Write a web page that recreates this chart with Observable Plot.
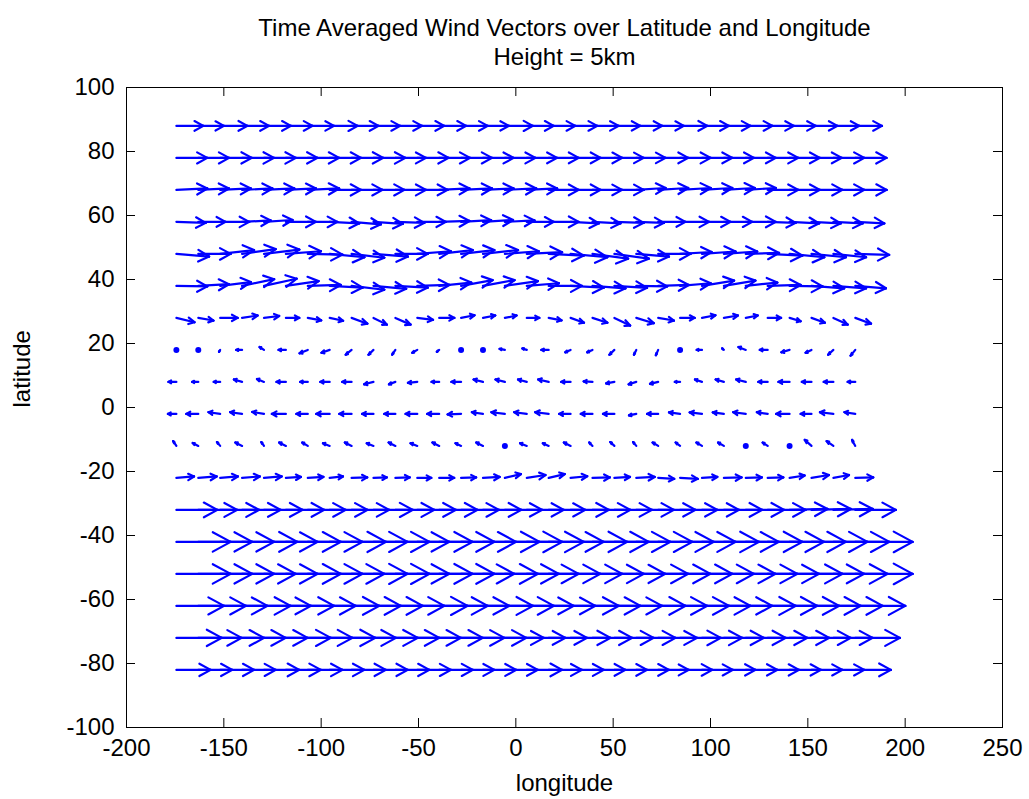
<!DOCTYPE html>
<html><head><meta charset="utf-8">
<script src="https://cdn.jsdelivr.net/npm/d3@7"></script>
<script src="https://cdn.jsdelivr.net/npm/@observablehq/plot@0.6"></script>
<style>html,body{margin:0;padding:0;background:#fff}</style>
</head><body><div id="chart"></div>
<script>
// Grid (grid-point longitudes / latitudes)
const lons = [-174.375, -163.125, -151.875, -140.625, -129.375, -118.125, -106.875, -95.625,
  -84.375, -73.125, -61.875, -50.625, -39.375, -28.125, -16.875, -5.625,
  5.625, 16.875, 28.125, 39.375, 50.625, 61.875, 73.125, 84.375,
  95.625, 106.875, 118.125, 129.375, 140.625, 151.875, 163.125, 174.375];
const lats = [88, 78, 68, 58, 48, 38, 28, 18, 8, -2, -12, -22, -32, -42, -52, -62, -72, -82];

// Zonal wind component (one row per latitude, west -> east)
const uWind = [
  [9.25, 8.8, 9.35, 9.25, 9.25, 9.15, 9.0, 9.6, 9.25, 9.15, 9.15, 9.25, 9.25, 9.15, 8.9, 9.6, 9.25, 9.15, 9.15, 9.0, 8.9, 8.9, 8.8, 9.35, 9.25, 9.15, 9.15, 9.0, 9.0, 8.9, 8.9, 9.15],
  [10.6, 10.55, 10.85, 10.95, 10.95, 10.85, 10.75, 10.75, 10.85, 10.95, 10.5, 10.75, 10.6, 10.6, 10.5, 10.5, 10.4, 10.3, 10.3, 10.2, 10.05, 10.05, 10.3, 10.5, 10.4, 10.3, 10.3, 10.5, 10.4, 10.4, 10.6, 10.7],
  [10.6, 10.5, 10.5, 10.4, 10.4, 10.3, 10.75, 10.75, 10.6, 10.6, 10.5, 10.4, 10.4, 10.6, 10.5, 10.75, 10.4, 10.3, 10.3, 10.15, 10.05, 10.05, 10.3, 10.5, 10.4, 10.6, 10.3, 10.5, 10.4, 10.6, 10.6, 10.75],
  [10.05, 9.35, 9.95, 9.8, 9.8, 10.3, 10.15, 10.15, 10.05, 10.05, 9.95, 9.8, 10.4, 10.3, 10.3, 10.15, 9.25, 10.3, 9.7, 9.6, 10.05, 9.5, 9.35, 9.95, 9.8, 9.7, 10.3, 9.6, 10.15, 10.05, 10.05, 9.95],
  [11.2, 11.1, 11.6, 11.5, 12.1, 12.0, 11.9, 11.9, 11.2, 11.8, 11.1, 11.5, 11.5, 11.4, 12.0, 11.6, 12.1, 12.0, 12.6, 12.2, 11.8, 11.2, 11.1, 10.8, 11.5, 11.4, 11.4, 11.9, 11.9, 11.8, 11.2, 11.6],
  [10.6, 10.5, 10.5, 11.0, 11.2, 11.2, 11.3, 11.3, 11.2, 11.2, 11.1, 11.0, 11.0, 10.8, 10.8, 11.3, 11.0, 11.4, 11.4, 11.3, 11.2, 10.6, 10.5, 10.5, 11.0, 10.8, 10.8, 11.3, 11.3, 11.2, 11.2, 10.5],
  [6.2, 5.2, 6.0, 5.3, 5.2, 4.6, 4.6, 4.6, 5.4, 4.6, 5.2, 5.4, 5.2, 4.6, 4.2, 4.0, 4.3, 4.4, 4.6, 5.1, 5.4, 6.0, 5.4, 5.0, 4.6, 4.8, 4.1, 4.6, 3.8, 4.6, 4.9, 5.4],
  [0, 0, -0.4, -2.0, -1.5, -2.5, -2.8, -2.8, -2.0, -1.7, -1.1, -1.7, -0.8, 0, 0, -1.8, -1.5, -2.5, -1.8, -1.8, -1.7, -0.8, -0.8, 0, -1.8, -0.6, -2.5, -2.7, -2.8, -2.0, -1.8, -1.6],
  [-2.7, -2.1, -2.2, -2.8, -2.4, -3.2, -2.6, -3.2, -3.2, -3.2, -2.2, -3.2, -2.6, -3.3, -3.2, -3.2, -3.0, -3.6, -3.2, -3.0, -2.8, -2.6, -2.8, -1.8, -2.4, -2.8, -3.3, -3.2, -3.8, -3.3, -3.3, -2.6],
  [-2.9, -4.1, -4.0, -4.1, -4.0, -4.8, -3.9, -4.6, -4.2, -3.9, -3.8, -4.0, -4.1, -4.6, -3.8, -4.6, -4.3, -4.6, -3.9, -4.0, -3.9, -2.5, -3.8, -3.8, -4.2, -3.8, -4.3, -3.7, -4.6, -3.7, -4.6, -3.7],
  [-1.1, -1.9, -1.1, -2.3, -0.9, -2.3, -1.9, -2.3, -2.3, -2.3, -2.3, -2.3, -2.3, -1.9, -2.3, 0, -2.3, -2.0, -2.3, -1.1, -1.4, -1.1, -1.9, -1.5, -1.9, -2.0, 0, -1.7, 0, -2.3, -2.3, -1.1],
  [6.05, 6.3, 6.05, 6.05, 6.05, 5.15, 5.35, 4.55, 5.35, 4.55, 4.9, 4.8, 5.15, 5.15, 5.7, 5.5, 6.4, 5.5, 5.7, 5.95, 5.35, 6.3, 5.5, 6.05, 5.25, 6.05, 5.5, 5.35, 5.15, 5.95, 5.35, 6.15],
  [14.05, 13.35, 13.35, 13.25, 13.25, 13.15, 13.0, 13.0, 12.9, 13.5, 13.35, 13.25, 13.15, 13.0, 13.15, 12.8, 12.7, 12.55, 13.15, 13.0, 12.9, 12.9, 12.8, 12.8, 12.7, 13.15, 13.15, 13.0, 13.0, 13.5, 13.5, 13.9],
  [18.6, 18.5, 18.5, 18.95, 18.4, 18.85, 18.75, 19.3, 19.2, 19.2, 18.5, 18.95, 18.95, 18.85, 19.4, 19.65, 19.55, 18.85, 19.4, 19.3, 19.2, 19.2, 19.05, 19.05, 19.55, 18.85, 19.4, 19.3, 19.3, 19.2, 19.2, 19.65],
  [18.6, 18.5, 18.5, 18.4, 18.4, 18.85, 18.75, 18.75, 19.2, 19.2, 18.5, 18.95, 18.95, 18.25, 18.85, 18.5, 17.8, 17.7, 17.7, 17.6, 17.45, 17.8, 17.9, 17.9, 17.8, 17.7, 17.7, 17.6, 18.15, 18.05, 18.6, 19.65],
  [16.35, 16.35, 16.2, 16.65, 16.1, 16.55, 16.45, 17.0, 16.9, 16.9, 16.8, 17.25, 16.65, 16.55, 17.15, 16.8, 16.1, 16.0, 16.55, 16.45, 16.35, 16.9, 16.8, 16.8, 16.65, 16.55, 17.15, 17.0, 17.0, 16.9, 16.9, 17.15],
  [15.55, 14.85, 15.05, 14.95, 14.95, 15.4, 15.3, 15.65, 15.2, 15.2, 15.05, 14.95, 14.95, 14.85, 14.85, 13.35, 13.25, 13.15, 13.7, 13.6, 13.45, 13.45, 13.35, 13.95, 13.8, 13.7, 13.7, 13.6, 13.6, 13.45, 13.45, 15.3],
  [11.75, 11.65, 11.65, 11.55, 12.1, 12.0, 11.9, 11.9, 11.75, 11.75, 11.65, 11.55, 11.55, 11.4, 11.4, 11.3, 12.1, 11.4, 11.4, 11.3, 11.2, 11.2, 10.5, 11.05, 10.6, 10.85, 10.85, 10.75, 10.75, 10.6, 10.6, 12.2]
];

// Meridional wind component
const vWind = [
  [0, 0, 0, 0, 0, 0, 0, 0, 0, 0, 0, 0, 0, 0, 0, 0, 0, 0, 0, 0, 0, 0, 0, 0, 0, 0, 0, 0, 0, 0, 0, 0],
  [0, 0, 0, 0, 0, 0, 0, 0, 0, 0, 0, 0, 0, 0, 0, 0, 0, 0, 0, 0, 0, 0, 0, 0, 0, 0, 0, 0, 0, 0, 0, 0],
  [0.3, 0.3, 0.3, 0.3, 0.3, 0.3, 0.3, 0, 0, 0, 0, 0, 0.3, 0.3, 0.3, 0.3, 0.3, 0, 0, 0, 0, 0.4, 0.4, 0.4, 0.4, 0.4, 0.4, 0, 0, 0, 0, 0],
  [-0.2, 0, 0, 0.3, 0.4, 0, 0, -0.3, -0.5, -0.4, -0.2, 0, 0.2, 0.35, 0.4, 0.3, 0, 0, -0.3, -0.3, -0.2, -0.2, 0, 0, 0, 0, 0, -0.2, -0.3, -0.3, -0.3, -0.3],
  [-0.55, 0, 0.8, 1.0, 0.9, 0.55, -0.15, -0.7, -0.8, -0.55, 0, 0.55, 0.8, 0.8, 0.8, 0.55, 0.35, -0.35, -0.7, -1.0, -1.0, -0.55, 0, 0.4, 0.5, 0.5, 0.2, -0.35, -0.7, -0.7, -0.7, -0.2],
  [-0.1, 0.35, 0.8, 1.4, 1.5, 1.0, 0.2, -0.35, -0.8, -0.6, -0.35, 0.2, 0.7, 1.2, 1.2, 1.0, 0.55, 0, -0.35, -0.5, -0.4, -0.1, 0.2, 0.55, 1.1, 1.1, 0.7, 0.2, -0.1, -0.5, -0.5, -0.5],
  [-0.9, -0.55, 0, 0.5, 0.4, 0, -0.5, -0.6, -1.2, -1.4, -1.4, -0.4, 0, 0.55, 0.5, 0.5, 0, -0.5, -1.0, -1.0, -1.6, -1.1, -0.55, 0, 0.55, 0.5, 0.5, 0, -0.7, -1.0, -1.4, -1.2],
  [0, 0, -0.4, 0, 0.6, 0, -0.7, -0.6, -1.0, -1.0, -1.0, -0.6, -0.4, 0, 0, 0.2, 0.3, 0, -0.5, -0.5, -1.0, -1.0, -1.1, 0, 0, 0.3, 0.6, 0, -0.5, -0.6, -1.0, -1.2],
  [0, 0, 0, 0.5, 0.6, 0, 0, 0, 0, -0.5, -0.5, -0.2, 0, 0, 0.5, 0.5, 0.5, 0.5, 0, 0.1, -0.3, -0.5, -0.4, 0, 0.5, 0.5, 0.5, 0, 0, 0, 0, 0],
  [0, 0, 0.35, 0.35, 0.4, 0, 0, 0, 0, 0, 0, 0, 0, -0.1, 0.35, 0.35, 0.35, 0.35, 0, 0, 0, -0.3, 0, 0.3, 0.3, 0.3, 0.35, 0.35, 0, 0, 0.35, 0.35],
  [1.0, 0.6, 0.8, 0.7, 0.8, 0.7, 0.7, 0.55, 0.7, 0.55, 0.7, 0.55, 0.7, 0.55, 0.7, 0, 0.55, 0.55, 0.7, 0.7, 0.8, 0.8, 0.7, 0.7, 0.7, 0.7, 0, 0.7, 0, 1.25, 1.0, 1.25],
  [0.3, 0.3, 0.3, 0.3, 0.3, 0.2, 0.2, 0.3, 0.1, 0.1, 0.1, 0, 0, 0.1, 0.2, 0.8, 0.6, 0.8, 0.35, 0.1, 0.2, 0.2, -0.2, -0.2, 0.2, 0.1, 0.1, 0.1, 0.5, 0.6, 0.6, 0.1],
  [0, 0, 0, 0, 0, 0, 0, 0, 0, 0, 0, 0, 0, 0, 0, 0, 0, 0, 0, 0, 0, 0, 0, 0, 0, 0, 0, 0, 0.2, 0.2, 0.2, 0],
  [0, 0, 0, 0, 0, 0, 0, 0, 0, 0, 0, 0, 0, 0, 0, 0, 0, 0, 0, 0, 0, 0, 0, 0, 0, 0, 0, 0, 0, 0, 0, 0],
  [0, 0, 0, 0, 0, 0, 0, 0, 0, 0, 0, 0, 0, 0, 0, 0, 0, 0, 0, 0, 0, 0, 0, 0, 0, 0, 0, 0, 0, 0, 0, 0],
  [0, 0, 0, 0, 0, 0, 0, 0, 0, 0, 0, 0, 0, 0, 0, 0, 0, 0, 0, 0, 0, 0, 0, 0, 0, 0, 0, 0, 0, 0, 0, 0],
  [0, 0, 0, 0, 0, 0, 0, 0, 0, 0, 0, 0, 0, 0, 0, 0, 0, 0, 0, 0, 0, 0, 0, 0, 0, 0, 0, 0, 0, 0, 0, 0],
  [0, 0, 0, 0, 0, 0, 0, 0, 0, 0, 0, 0, 0, 0, 0, 0, 0, 0, 0, 0, 0, 0, 0, 0, 0, 0, 0, 0, 0, 0, 0, 0]
];

const xTicks = [-200, -150, -100, -50, 0, 50, 100, 150, 200, 250];
const yTicks = [-100, -80, -60, -40, -20, 0, 20, 40, 60, 80, 100];
const titleLines = ["Time Averaged Wind Vectors over Latitude and Longitude", "Height = 5km"];
const xLabel = "longitude";
const yLabel = "latitude";

// quiver geometry (MATLAB style: arrow head built in data units)
const SCALE = 1.5, ALPHA = 0.33, BETA = 0.33;
const vecs = [];
lats.forEach((lat, i) => lons.forEach((lon, j) => {
  vecs.push({lon, lat, u: uWind[i][j] * SCALE, v: vWind[i][j] * SCALE});
}));
const moving = vecs.filter(d => d.u !== 0 || d.v !== 0);
const still = vecs.filter(d => d.u === 0 && d.v === 0);
const heads = [];
for (const d of moving) {
  const tx = d.lon + d.u, ty = d.lat + d.v;
  heads.push({x1: tx, y1: ty, x2: tx - ALPHA * (d.u + BETA * d.v), y2: ty - ALPHA * (d.v - BETA * d.u)});
  heads.push({x1: tx, y1: ty, x2: tx - ALPHA * (d.u - BETA * d.v), y2: ty - ALPHA * (d.v + BETA * d.u)});
}

const W = 1029, H = 799;
const mL = 126, mR = 27, mT = 87, mB = 72;
const plotW = W - mL - mR, plotH = H - mT - mB;
const TICK = 9;
const BLUE = "#0000ff";
const FONT = 24;
const SW = 2.2;

const chart = Plot.plot({
  width: W, height: H,
  marginLeft: mL, marginRight: mR, marginTop: mT, marginBottom: mB,
  style: {fontFamily: "'Liberation Sans', Arial, sans-serif", fontSize: FONT + "px", background: "#fff", color: "#000"},
  x: {domain: [-200, 250], axis: null},
  y: {domain: [-100, 100], axis: null},
  marks: [
    Plot.link(moving, {x1: "lon", y1: "lat", x2: d => d.lon + d.u, y2: d => d.lat + d.v, stroke: BLUE, strokeWidth: SW, strokeLinecap: "round"}),
    Plot.link(heads, {x1: "x1", y1: "y1", x2: "x2", y2: "y2", stroke: BLUE, strokeWidth: SW, strokeLinecap: "round"}),
    Plot.dot(still, {x: "lon", y: "lat", r: 3, fill: BLUE, stroke: null}),
    Plot.frame({stroke: "#000", strokeWidth: 1}),
    Plot.tickX(xTicks, {x: d => d, insetTop: plotH - TICK, stroke: "#000"}),
    Plot.tickX(xTicks, {x: d => d, insetBottom: plotH - TICK, stroke: "#000"}),
    Plot.tickY(yTicks, {y: d => d, insetRight: plotW - TICK, stroke: "#000"}),
    Plot.tickY(yTicks, {y: d => d, insetLeft: plotW - TICK, stroke: "#000"}),
    Plot.axisX({ticks: xTicks, tickSize: 0, tickPadding: 11, tickFormat: d => String(d), label: null, fontSize: FONT}),
    Plot.axisY({ticks: yTicks, tickSize: 0, tickPadding: 12, tickFormat: d => String(d), label: null, fontSize: FONT}),
    Plot.text([xLabel], {frameAnchor: "bottom", lineAnchor: "middle", dy: 56, fontSize: FONT, fill: "#000"}),
    Plot.text([yLabel], {frameAnchor: "left", lineAnchor: "middle", dx: -104, rotate: -90, fontSize: FONT, fill: "#000"}),
    Plot.text([titleLines[0]], {frameAnchor: "top", lineAnchor: "middle", dy: -59, fontSize: FONT, fill: "#000"}),
    Plot.text([titleLines[1]], {frameAnchor: "top", lineAnchor: "middle", dy: -30, fontSize: FONT, fill: "#000"})
  ]
});
document.getElementById("chart").appendChild(chart);
</script>
</body></html>
